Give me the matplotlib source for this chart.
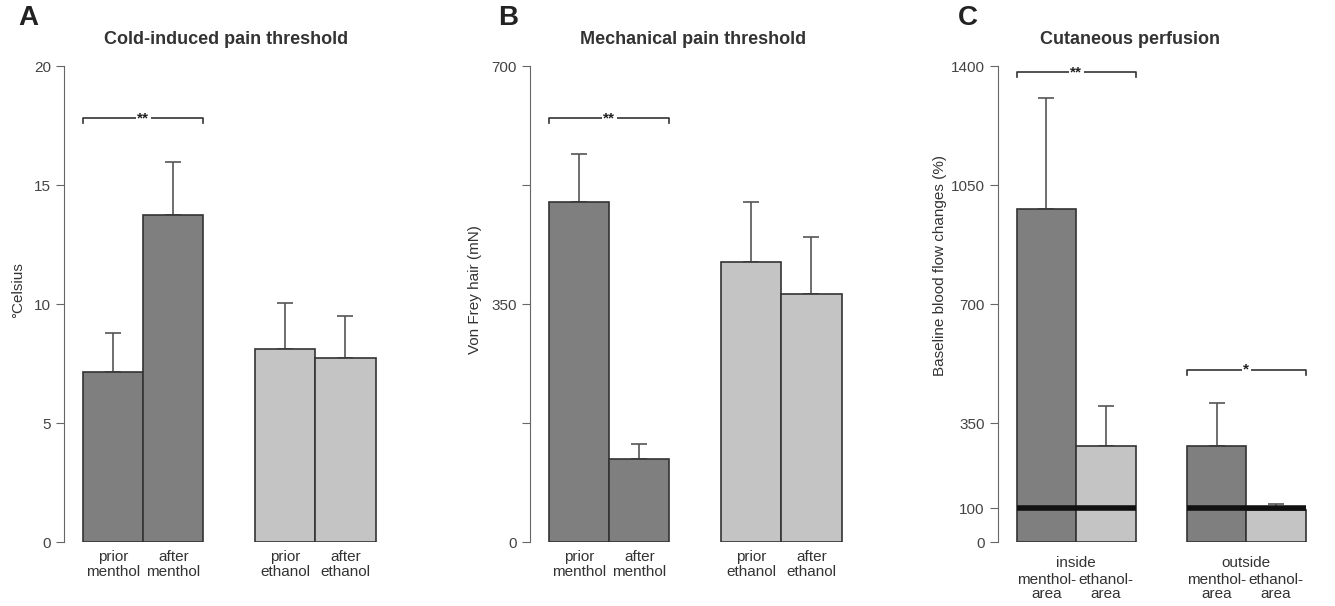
import matplotlib.pyplot as plt

plt.rcParams['font.family'] = ['Liberation Sans', 'DejaVu Sans']

# panel A: cold-induced pain threshold (deg C)
cold_labels = ["prior\nmenthol", "after\nmenthol", "prior\nethanol", "after\nethanol"]
cold_mean = [7.15, 13.75, 8.1, 7.75]
cold_err = [1.65, 2.2, 1.95, 1.75]

# panel B: mechanical pain threshold (mN)
mech_labels = ["prior\nmenthol", "after\nmenthol", "prior\nethanol", "after\nethanol"]
mech_mean = [500, 122, 412, 365]
mech_err = [71, 22, 88, 84]

# panel C: cutaneous perfusion (%)
perf_labels = ["menthol-\narea", "ethanol-\narea", "menthol-\narea", "ethanol-\narea"]
perf_groups = ["inside", "outside"]
perf_mean = [979, 282, 282, 95]
perf_err = [327, 118, 127, 17]
baseline = 100

dark = "#7f7f7f"
light = "#c4c4c4"
colors_ab = [dark, dark, light, light]
colors_c = [dark, light, dark, light]
pos = [0, 1, 2.86, 3.86]
edge = "#333333"
spine_c = "#666666"

fig = plt.figure(figsize=(13.35, 6.06), dpi=100)


def make_ax(left_px, right_px):
    ax = fig.add_axes([left_px / 1335, 1 - 542 / 606, (right_px - left_px) / 1335, 476 / 606])
    for s in ["top", "right", "bottom"]:
        ax.spines[s].set_visible(False)
    ax.spines["left"].set_color(spine_c)
    ax.tick_params(axis="y", colors=spine_c, labelcolor="#444444", labelsize=11, length=6)
    ax.tick_params(axis="x", length=0, labelsize=11, labelcolor="#333333", pad=6)
    ax.set_xlim(-0.815, 4.6)
    return ax


def bars(ax, mean, err, colors):
    ax.bar(pos, mean, width=1.0, color=colors, edgecolor=edge, linewidth=1.2, zorder=2)
    ax.errorbar(pos, mean, yerr=[[0] * len(err), err], fmt="none", ecolor="#555555",
                elinewidth=1.2, capsize=6, capthick=1.2, zorder=1)


def bracket(ax, x0, x1, y, h, txt):
    ax.plot([x0, x0, x1, x1], [y - h, y, y, y - h], color="#333333", lw=1.2, clip_on=False)
    ax.text((x0 + x1) / 2, y, txt, ha="center", va="center", fontsize=11, fontweight="bold",
            color="#222222", bbox=dict(facecolor="white", edgecolor="none", pad=1))


# A
axA = make_ax(64, 390)
bars(axA, cold_mean, cold_err, colors_ab)
axA.set_ylim(0, 20)
axA.set_yticks([0, 5, 10, 15, 20])
axA.set_xticks(pos)
axA.set_xticklabels(cold_labels, linespacing=1.1)
axA.set_ylabel("°Celsius", fontsize=11, color="#333333")
axA.yaxis.set_label_coords(-0.12, 0.53)
bracket(axA, -0.5, 1.5, 17.8, 0.2, "**")
fig.text(18 / 1335, 1 - 18 / 606, "A", fontsize=20, fontweight="bold", color="#222222", va="center")
fig.text(226 / 1335, 1 - 40 / 606, "Cold-induced pain threshold", fontsize=13, fontweight="bold",
         color="#333333", ha="center", va="center")

# B
axB = make_ax(530, 856)
bars(axB, mech_mean, mech_err, colors_ab)
axB.set_ylim(0, 700)
axB.set_yticks([0, 175, 350, 525, 700])
axB.set_yticklabels(["0", "", "350", "", "700"])
axB.set_xticks(pos)
axB.set_xticklabels(mech_labels, linespacing=1.1)
axB.set_ylabel("Von Frey hair (mN)", fontsize=11, color="#333333")
axB.yaxis.set_label_coords(-0.147, 0.53)
bracket(axB, -0.5, 1.5, 623, 7, "**")
fig.text(498 / 1335, 1 - 18 / 606, "B", fontsize=20, fontweight="bold", color="#222222", va="center")
fig.text(693 / 1335, 1 - 40 / 606, "Mechanical pain threshold", fontsize=13, fontweight="bold",
         color="#333333", ha="center", va="center")

# C
axC = make_ax(998, 1320)
bars(axC, perf_mean, perf_err, colors_c)
for a, b in [(0, 1), (2, 3)]:
    axC.plot([pos[a] - 0.5, pos[b] + 0.5], [baseline, baseline], color="#111111", lw=4, zorder=3,
             solid_capstyle="butt")
axC.set_ylim(0, 1400)
axC.set_yticks([0, 100, 350, 700, 1050, 1400])
axC.set_xticks(pos)
axC.set_xticklabels(perf_labels, linespacing=1.05)
axC.tick_params(axis="x", pad=22)
for i, g in enumerate(perf_groups):
    axC.text((pos[2 * i] + pos[2 * i + 1]) / 2, -40, g, ha="center", va="top", fontsize=11,
             color="#333333")
axC.set_ylabel("Baseline blood flow changes (%)", fontsize=11, color="#333333")
axC.yaxis.set_label_coords(-0.158, 0.58)
bracket(axC, -0.5, 1.5, 1382, 14, "**")
bracket(axC, pos[2] - 0.5, pos[3] + 0.5, 506, 14, "*")
fig.text(958 / 1335, 1 - 18 / 606, "C", fontsize=20, fontweight="bold", color="#222222", va="center")
fig.text(1130 / 1335, 1 - 40 / 606, "Cutaneous perfusion", fontsize=13, fontweight="bold",
         color="#333333", ha="center", va="center")

fig.savefig("out.png", dpi=100, facecolor="white")
